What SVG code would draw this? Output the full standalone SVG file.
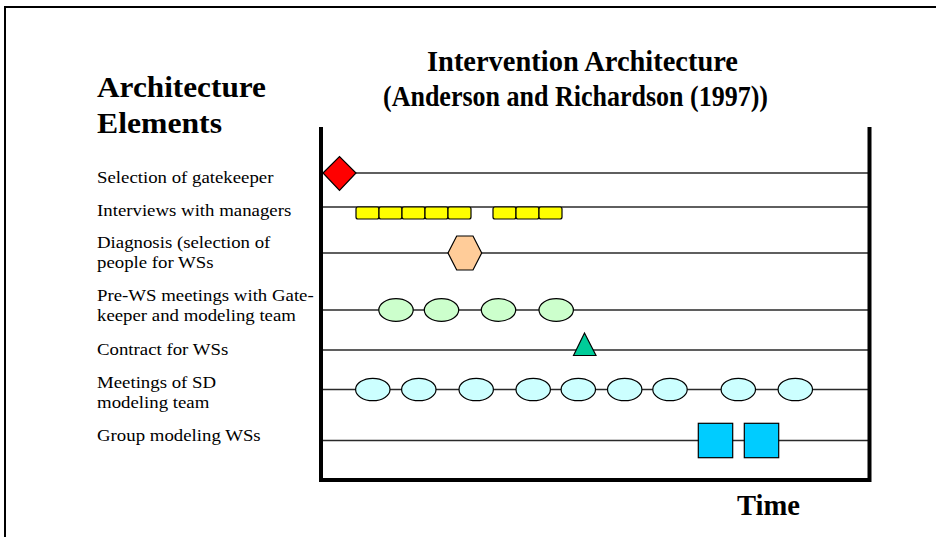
<svg xmlns="http://www.w3.org/2000/svg" width="936" height="537" viewBox="0 0 936 537">
<style>
.frame{fill:none;stroke:#000;stroke-width:2}
.axis{fill:none;stroke:#000;stroke-width:4}
.row{fill:none;stroke:#2a2a2a;stroke-width:1.3}
.shape{stroke:#000;stroke-width:1.2}
.head{font-family:"Liberation Serif","Times New Roman",serif;font-weight:bold;font-size:29px;fill:#000}
.lab{font-family:"Liberation Serif","Times New Roman",serif;font-size:16.5px;fill:#000}
</style>
<rect width="936" height="537" fill="#fff"/>
<path class="frame" d="M5,537 V7 H936"/>
<g id="titles">
<text class="head" x="427" y="71" textLength="311" lengthAdjust="spacingAndGlyphs">Intervention Architecture</text>
<text class="head" x="383" y="106" textLength="385" lengthAdjust="spacingAndGlyphs">(Anderson and Richardson (1997))</text>
<text class="head" x="97" y="97" textLength="169" lengthAdjust="spacingAndGlyphs">Architecture</text>
<text class="head" x="97" y="133" textLength="125" lengthAdjust="spacingAndGlyphs">Elements</text>
<text class="head" x="737" y="515" textLength="63" lengthAdjust="spacingAndGlyphs">Time</text>
</g>
<g id="labels" transform="translate(97,0) scale(1.14,1)">
<text class="lab" x="0" y="183">Selection of gatekeeper</text>
<text class="lab" x="0" y="216">Interviews with managers</text>
<text class="lab" x="0" y="248">Diagnosis (selection of</text>
<text class="lab" x="0" y="268">people for WSs</text>
<text class="lab" x="0" y="301">Pre-WS meetings with Gate-</text>
<text class="lab" x="0" y="321">keeper and modeling team</text>
<text class="lab" x="0" y="355">Contract for WSs</text>
<text class="lab" x="0" y="388">Meetings of SD</text>
<text class="lab" x="0" y="408">modeling team</text>
<text class="lab" x="0" y="441">Group modeling WSs</text>
</g>
<g id="connectors">
<line class="row" x1="323" y1="173" x2="868" y2="173"/>
<line class="row" x1="323" y1="207" x2="868" y2="207"/>
<line class="row" x1="323" y1="253" x2="868" y2="253"/>
<line class="row" x1="323" y1="310" x2="868" y2="310"/>
<line class="row" x1="323" y1="350" x2="868" y2="350"/>
<line class="row" x1="323" y1="389.5" x2="868" y2="389.5"/>
<line class="row" x1="323" y1="440.5" x2="868" y2="440.5"/>
</g>
<g id="axes">
<path class="axis" d="M321,127 V480 H869.5 V127"/>
</g>
<g id="gatekeeper">
<polygon class="shape" fill="#FF0000" points="323,173 339.5,156.5 356,173 339.5,190.5"/>
</g>
<g id="interviews" class="shape" fill="#FFFF00">
<rect x="356" y="207" width="23" height="12" rx="2"/>
<rect x="379" y="207" width="23" height="12" rx="2"/>
<rect x="402" y="207" width="23" height="12" rx="2"/>
<rect x="425" y="207" width="23" height="12" rx="2"/>
<rect x="448" y="207" width="23" height="12" rx="2"/>
<rect x="493" y="207" width="23" height="12" rx="2"/>
<rect x="516" y="207" width="23" height="12" rx="2"/>
<rect x="539" y="207" width="23" height="12" rx="2"/>
</g>
<g id="diagnosis">
<polygon class="shape" fill="#FFCC99" points="448,253 456.7,236 473,236 481.7,253 473,270 456.7,270"/>
</g>
<g id="prews" class="shape" fill="#CCFFCC">
<ellipse cx="396" cy="310" rx="17.2" ry="11.3"/>
<ellipse cx="441.5" cy="310" rx="17.2" ry="11.3"/>
<ellipse cx="498.5" cy="310" rx="17.2" ry="11.3"/>
<ellipse cx="556.2" cy="310" rx="17.2" ry="11.3"/>
</g>
<g id="contract">
<polygon class="shape" fill="#00CC99" points="573.5,355.5 584.5,333 596,355.5"/>
</g>
<g id="sdmeetings" class="shape" fill="#CCFFFF">
<ellipse cx="372.8" cy="389.5" rx="17.2" ry="11.2"/>
<ellipse cx="418.8" cy="389.5" rx="17.2" ry="11.2"/>
<ellipse cx="476.2" cy="389.5" rx="17.2" ry="11.2"/>
<ellipse cx="533.2" cy="389.5" rx="17.2" ry="11.2"/>
<ellipse cx="578.3" cy="389.5" rx="17.2" ry="11.2"/>
<ellipse cx="624.7" cy="389.5" rx="17.2" ry="11.2"/>
<ellipse cx="670" cy="389.5" rx="17.2" ry="11.2"/>
<ellipse cx="738.3" cy="389.5" rx="17.2" ry="11.2"/>
<ellipse cx="795.3" cy="389.5" rx="17.2" ry="11.2"/>
</g>
<g id="groupws" class="shape" fill="#00CCFF">
<rect x="698.3" y="423.3" width="34.4" height="34.4"/>
<rect x="744.3" y="423.3" width="34.4" height="34.4"/>
</g>
</svg>
